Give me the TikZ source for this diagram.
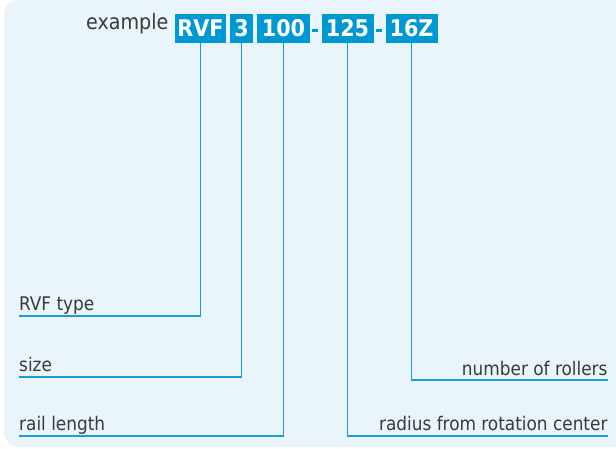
\documentclass[tikz,border=0pt]{standalone}
\usepackage{fontspec}
\setmainfont{DejaVu Sans Condensed}
\newfontfamily\boxfont{DejaVu Sans Condensed Bold}
\definecolor{bgblue}{HTML}{E9F4FB}
\definecolor{boxblue}{HTML}{0098D3}
\definecolor{lineblue}{HTML}{1A9AD6}
\definecolor{txt}{HTML}{3A3A3A}
\begin{document}
\begin{tikzpicture}[x=1pt,y=-1pt,
  codebox/.style={fill=boxblue,text=white,inner sep=0pt,minimum height=29.5pt,
    font=\boxfont\fontsize{23}{23}\selectfont},
  lbl/.style={text=txt,inner sep=0pt,font=\fontsize{18.8}{18.8}\selectfont},
  conn/.style={draw=lineblue,line width=1.6pt}]
\useasboundingbox (0,0) rectangle (616,449);
\fill[bgblue,rounded corners=15pt] (4,0) rectangle (640,447);
% code boxes
\node[codebox,minimum width=51.5pt] (rvf) at (200.5,28.5) {RVF};
\node[codebox,minimum width=22.5pt] (sz) at (241.5,28.5) {3};
\node[codebox,minimum width=53pt] (len) at (283.5,28.5) {100};
\node[codebox,minimum width=52pt] (rad) at (347.5,28.5) {125};
\node[codebox,minimum width=52pt] (rol) at (411.5,28.5) {16Z};
\fill[boxblue] (312.3,29.5) rectangle (318.3,32.2);
\fill[boxblue] (376,29.5) rectangle (382,32.2);
\node[text=txt,inner sep=0pt,anchor=base east,font=\fontsize{21.2}{21.2}\selectfont] (ex) at (168.5,30) {example};
% labels
\node[lbl,anchor=base west] (l1) at (19,310.7) {RVF type};
\node[lbl,anchor=base west] (l2) at (19,371) {size};
\node[lbl,anchor=base west] (l3) at (19,430.7) {rail length};
\node[lbl,anchor=base east] (l4) at (607.7,375) {number of rollers};
\node[lbl,anchor=base east] (l5) at (607.7,430.7) {radius from rotation center};
\coordinate (e1) at (19,316);
\coordinate (e2) at (19,377);
\coordinate (e3) at (19,435.8);
\coordinate (e4) at (607.7,380);
\coordinate (e5) at (607.7,436);
\draw[conn] (rvf.south) |- (e1);
\draw[conn] (sz.south) |- (e2);
\draw[conn] (len.south) |- (e3);
\draw[conn] (rol.south) |- (e4);
\draw[conn] (rad.south) |- (e5);
\end{tikzpicture}
\end{document}
